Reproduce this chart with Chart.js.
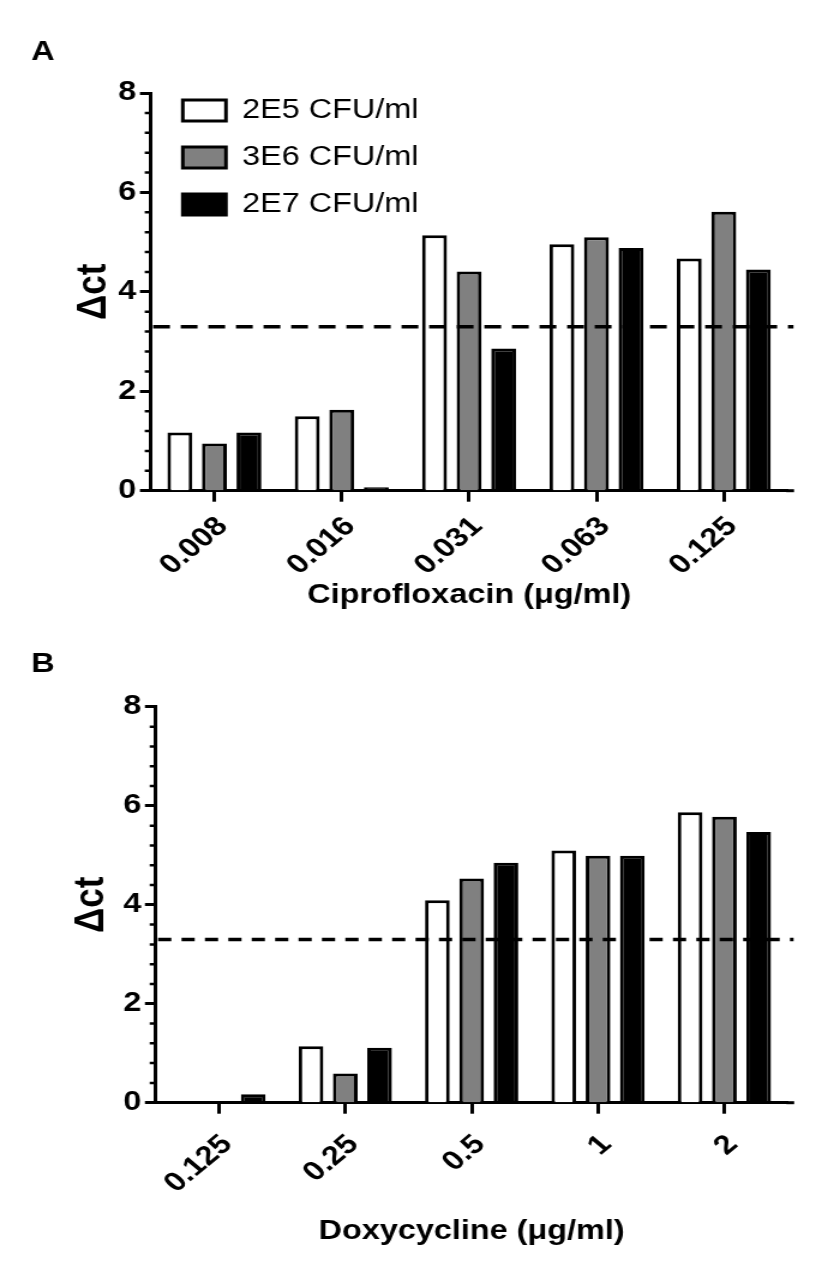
<!DOCTYPE html>
<html>
<head>
<meta charset="utf-8">
<script src="https://cdn.jsdelivr.net/npm/chart.js@4.4.1/dist/chart.umd.min.js"></script>
<style>
    body { margin: 0; background: #fff; }
    .panel { width: 691px; transform: scaleX(1.2); transform-origin: 0 0; position: relative; }
    #panel-a { height: 640px; }
    #panel-b { height: 639px; }
</style>
</head>
<body>
<div class="panel" id="panel-a"><canvas id="chart-a"></canvas></div>
<div class="panel" id="panel-b"><canvas id="chart-b"></canvas></div>
<script>
const seriesNames = ['2E5 CFU/ml', '3E6 CFU/ml', '2E7 CFU/ml'];

const ciproLabels = ['0.008', '0.016', '0.031', '0.063', '0.125'];
const cipro2E5 = [1.17, 1.50, 5.14, 4.96, 4.67];
const cipro3E6 = [0.95, 1.63, 4.41, 5.10, 5.61];
const cipro2E7 = [1.17, 0.07, 2.86, 4.88, 4.45];

const doxyLabels = ['0.125', '0.25', '0.5', '1', '2'];
const doxy2E5 = [0, 1.14, 4.09, 5.10, 5.87];
const doxy3E6 = [0, 0.59, 4.53, 4.99, 5.78];
const doxy2E7 = [0.17, 1.11, 4.85, 4.99, 5.47];

const yTicks = [0, 2, 4, 6, 8];
const minorStep = 0.4;
const cutoff = 3.3;

const FONT = "'Liberation Sans', Arial, Helvetica, sans-serif";
Chart.defaults.font.family = FONT;
Chart.defaults.color = '#000';

function makeDatasets(a, b, c) {
    const fills = ['#ffffff', '#808080', '#000000'];
    return [a, b, c].map((d, i) => ({
        label: seriesNames[i],
        data: d,
        backgroundColor: fills[i],
        borderColor: '#000',
        borderWidth: 3,
        categoryPercentage: 0.814,
        barPercentage: 0.72
    }));
}

// dashed cut-off line, minor y ticks, small x-axis overhang
const refLines = {
    id: 'refLines',
    afterDatasetsDraw(chart, args, opts) {
        const {ctx, chartArea} = chart;
        const y = chart.scales.y;
        ctx.save();
        ctx.strokeStyle = '#000';
        ctx.lineWidth = 3.5;
        ctx.setLineDash(opts.dash);
        const py = y.getPixelForValue(cutoff);
        ctx.beginPath();
        ctx.moveTo(chartArea.left + 2, py);
        ctx.lineTo(chartArea.right + 5, py);
        ctx.stroke();
        ctx.restore();
    },
    afterDraw(chart) {
        const {ctx, chartArea} = chart;
        const y = chart.scales.y;
        ctx.save();
        ctx.strokeStyle = '#000';
        ctx.lineWidth = 2.5;
        ctx.beginPath();
        for (let v = minorStep; v < y.max; v += minorStep) {
            const r = Math.round(v * 10) / 10;
            if (yTicks.includes(r)) continue;
            const p = y.getPixelForValue(r);
            ctx.moveTo(chartArea.left - 5, p);
            ctx.lineTo(chartArea.left, p);
        }
        ctx.stroke();
        ctx.lineWidth = 3;
        ctx.beginPath();
        ctx.moveTo(chartArea.right - 1, chartArea.bottom);
        ctx.lineTo(chartArea.right + 5.5, chartArea.bottom);
        ctx.stroke();
        ctx.restore();
    }
};

// put the in-plot legend in the upper left corner of the plot
const legendNudge = {
    id: 'legendNudge',
    afterLayout(chart, args, opts) {
        const lg = chart.legend;
        if (!lg || !opts.enabled) return;
        const h = lg.height;
        lg.left = chart.chartArea.left + opts.dx;
        lg.top = chart.chartArea.top + opts.dy;
        lg.bottom = lg.top + h;
    }
};

function makeChart(id, cfg) {
    return new Chart(document.getElementById(id), {
        type: 'bar',
        data: {
            labels: cfg.labels,
            datasets: makeDatasets(...cfg.series)
        },
        options: {
            responsive: true,
            maintainAspectRatio: false,
            animation: false,
            layout: { padding: { left: 26, right: cfg.padRight, top: 0, bottom: 0 } },
            plugins: {
                tooltip: { enabled: false },
                title: {
                    display: true,
                    text: cfg.panel,
                    align: 'start',
                    color: '#000',
                    font: { size: 27, weight: 'bold' },
                    padding: cfg.titlePad
                },
                legend: {
                    display: cfg.legend,
                    position: 'chartArea',
                    align: 'start',
                    labels: {
                        boxWidth: 36,
                        boxHeight: 21,
                        padding: 20,
                        color: '#000',
                        font: { size: 27, weight: 'normal' }
                    }
                },
                legendNudge: { enabled: cfg.legend, dx: 6.7, dy: -16 },
                refLines: { dash: cfg.dash }
            },
            scales: {
                x: {
                    z: 1,
                    offset: true,
                    grid: { offset: false, drawOnChartArea: false, tickLength: 11, tickWidth: 3, tickColor: '#000' },
                    border: { color: '#000', width: 3 },
                    ticks: {
                        autoSkip: false,
                        minRotation: 45,
                        maxRotation: 45,
                        padding: cfg.tickPad,
                        labelOffset: 7,
                        color: '#000',
                        font: { size: 27, weight: 'bold' }
                    },
                    title: {
                        display: true,
                        text: cfg.xTitle,
                        color: '#000',
                        font: { size: 27, weight: 'bold' },
                        padding: { top: 0, bottom: cfg.xTitlePad }
                    },
                    afterFit(s) { s.height = cfg.xHeight; }
                },
                y: {
                    z: 1,
                    min: 0,
                    max: 8,
                    afterBuildTicks(s) { s.ticks = yTicks.map(v => ({ value: v })); },
                    grid: { drawOnChartArea: false, tickLength: 9, tickWidth: 3, tickColor: '#000' },
                    border: { color: '#000', width: 3 },
                    ticks: {
                        padding: 3,
                        color: '#000',
                        font: { size: 27, weight: 'bold' }
                    },
                    title: {
                        display: true,
                        text: 'Δct',
                        color: '#000',
                        font: { size: 35, weight: 'bold' },
                        padding: { top: cfg.yTitlePad, bottom: 0 }
                    },
                    afterFit(s) { s.width = cfg.yWidth; }
                }
            }
        },
        plugins: [refLines, legendNudge]
    });
}

makeChart('chart-a', {
    panel: 'A',
    labels: ciproLabels,
    series: [cipro2E5, cipro3E6, cipro2E7],
    xTitle: 'Ciprofloxacin (μg/ml)',
    legend: true,
    dash: [14, 9],
    padRight: 34.8,
    titlePad: { top: 36, bottom: 24.6 },
    tickPad: 9,
    xTitlePad: 28,
    xHeight: 149.3,
    yTitlePad: 31,
    yWidth: 99.6
});

makeChart('chart-b', {
    panel: 'B',
    labels: doxyLabels,
    series: [doxy2E5, doxy3E6, doxy2E7],
    xTitle: 'Doxycycline (μg/ml)',
    legend: false,
    dash: [11, 8.5],
    padRight: 34.7,
    titlePad: { top: 8, bottom: 26.5 },
    tickPad: 15,
    xTitlePad: 31,
    xHeight: 176.3,
    yTitlePad: 29.5,
    yWidth: 103.75
});
</script>
</body>
</html>
